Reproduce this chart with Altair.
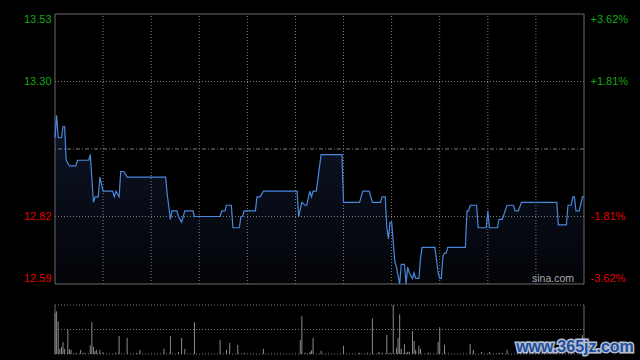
import altair as alt
import pandas as pd

# ---------------- data ----------------
PREV_CLOSE = 13.06
Y_MIN, Y_MAX = 12.58, 13.54

price_minute = [0, 1, 2, 4, 5, 6, 7, 9, 13, 14, 21, 22, 24, 25, 27, 28, 30, 36, 37, 38,
                40, 41, 43, 45, 69, 70, 72, 73, 76, 77, 79, 81, 86, 87, 103, 104, 106, 107, 110, 111,
                115, 116, 117, 118, 125, 126, 128, 130, 151, 152, 154, 156, 157, 159, 160, 161, 163, 166, 179, 180,
                190, 192, 196, 198, 203, 204, 206, 207, 208, 209, 210, 212, 213, 215, 216, 218, 219, 220, 221, 222,
                223, 224, 225, 227, 228, 229, 237, 239, 240, 241, 242, 243, 244, 245, 256, 257, 258, 259, 263, 264,
                269, 270, 271, 276, 277, 279, 282, 286, 287, 289, 291, 313, 314, 319, 320, 322, 323, 324, 325, 327,
                329, 330]
price_value = [13.10, 13.18, 13.10, 13.10, 13.14, 13.14, 13.02, 13.00, 13.00, 13.02, 13.02, 13.04, 12.87, 12.89, 12.89, 12.96, 12.91, 12.91, 12.89, 12.91,
               12.89, 12.98, 12.98, 12.96, 12.96, 12.90, 12.81, 12.84, 12.84, 12.82, 12.80, 12.84, 12.84, 12.82, 12.82, 12.84, 12.84, 12.86, 12.86, 12.78,
               12.78, 12.82, 12.82, 12.84, 12.84, 12.89, 12.89, 12.91, 12.91, 12.82, 12.87, 12.86, 12.86, 12.91, 12.89, 12.91, 12.91, 13.04, 13.04, 12.87,
               12.87, 12.91, 12.91, 12.87, 12.87, 12.89, 12.89, 12.78, 12.74, 12.80, 12.80, 12.66, 12.64, 12.58, 12.65, 12.65, 12.58, 12.64, 12.62, 12.61,
               12.60, 12.62, 12.60, 12.60, 12.67, 12.71, 12.71, 12.62, 12.60, 12.60, 12.68, 12.69, 12.69, 12.71, 12.71, 12.84, 12.84, 12.86, 12.86, 12.78,
               12.78, 12.84, 12.78, 12.78, 12.81, 12.81, 12.86, 12.86, 12.84, 12.84, 12.87, 12.87, 12.79, 12.79, 12.86, 12.86, 12.89, 12.89, 12.84, 12.84,
               12.89, 12.89]

volume_minute = [0, 1, 2, 3, 4, 5, 6, 8, 9, 10, 13, 16, 18, 22, 23, 24, 25, 26, 28, 30,
                 38, 40, 45, 51, 53, 68, 72, 77, 79, 81, 87, 103, 107, 109, 114, 118, 130, 153, 154, 156,
                 159, 160, 161, 166, 180, 190, 195, 198, 202, 204, 207, 209, 211, 213, 214, 215, 216, 218, 219, 220,
                 221, 223, 224, 225, 227, 228, 233, 239, 240, 243, 259, 261, 266, 271, 277, 279, 282, 329]
volume_value = [167, 173, 133, 21, 29, 49, 21, 100, 19, 17, 4, 17, 5, 35, 129, 29, 12, 17, 17, 7,
                5, 73, 65, 5, 17, 21, 73, 9, 65, 21, 129, 57, 17, 45, 37, 5, 21, 57, 153, 5,
                9, 15, 65, 13, 33, 5, 5, 145, 9, 5, 77, 5, 199, 25, 65, 161, 21, 41, 5, 9,
                9, 93, 53, 17, 33, 21, 5, 49, 109, 37, 41, 17, 9, 9, 5, 5, 17, 77]

tick_prices = [13.53, 13.30, 12.82, 12.59]
tick_pcts = ["+3.62%", "+1.81%", "-1.81%", "-3.62%"]
grid_minutes = [30, 60, 90, 120, 150, 180, 210, 240, 270, 300]
grid_prices = [13.30, 12.82]
edge_minutes = [0, 330]

VOL_MAX = max(volume_value)

# ---------------- layout ----------------
W, H = 529, 340
PRICE_H = 270
VOL_TOP = 291
FONT = "Arial, Liberation Sans"
GREEN = "#12a812"
RED = "#e00000"
BORDER = "#6a6a6a"
GRID = "#7c7c7c"

xs = alt.Scale(domain=[0, 330], nice=False, zero=False)
py = alt.Scale(domain=[Y_MIN, Y_MAX], range=[PRICE_H, 0], nice=False, zero=False)
vy = alt.Scale(domain=[0, VOL_MAX], range=[H, VOL_TOP], nice=False, zero=False)

pdf = pd.DataFrame({"m": price_minute, "p": price_value})
vdf = pd.DataFrame({"m": volume_minute, "v": volume_value})

label_color = {"condition": {"test": f"datum.value > {PREV_CLOSE}", "value": GREEN}, "value": RED}
label_offset = {"condition": [{"test": "datum.value > 13.5", "value": 3},
                              {"test": "datum.value < 12.6", "value": -3}], "value": 0}

pct_expr = "''"
for p, s in reversed(list(zip(tick_prices, tick_pcts))):
    pct_expr = f"abs(datum.value - {p}) < 0.001 ? '{s}' : ({pct_expr})"

X = alt.X("m:Q", scale=xs, axis=None)

area = alt.Chart(pdf).mark_area(
    color=alt.Gradient(gradient="linear",
                       stops=[alt.GradientStop(color="#0d1527", offset=0),
                              alt.GradientStop(color="#030408", offset=1)],
                       x1=0, x2=0, y1=0, y2=1)
).encode(x=X, y=alt.Y("p:Q", scale=py, axis=None), y2=alt.datum(Y_MIN))

# grid
vgrid = alt.Chart(pd.DataFrame({"m": grid_minutes})).mark_rule(
    color=GRID, strokeDash=[1, 2], strokeWidth=1
).encode(x=X, y=alt.YDatum(Y_MIN, scale=py, axis=None), y2=alt.datum(Y_MAX))
hgrid = alt.Chart(pd.DataFrame({"p": grid_prices})).mark_rule(
    color=GRID, strokeDash=[1, 2], strokeWidth=1
).encode(y=alt.Y("p:Q", scale=py, axis=None))
prev = alt.Chart(pd.DataFrame({"p": [PREV_CLOSE]})).mark_rule(
    color=GRID, strokeDash=[4, 2, 1, 2], strokeWidth=1
).encode(y=alt.Y("p:Q", scale=py, axis=None))

# price panel border
pb_h = alt.Chart(pd.DataFrame({"p": [Y_MIN, Y_MAX]})).mark_rule(color=BORDER).encode(
    y=alt.Y("p:Q", scale=py, axis=None))
pb_v = alt.Chart(pd.DataFrame({"m": edge_minutes})).mark_rule(color=BORDER).encode(
    x=X, y=alt.YDatum(Y_MIN, scale=py, axis=None), y2=alt.datum(Y_MAX))

line = alt.Chart(pdf).mark_line(color="#4a88dc", strokeWidth=1.2).encode(
    x=X,
    y=alt.Y("p:Q", scale=py,
            axis=alt.Axis(orient="left", values=tick_prices, format=".2f", title=None,
                          ticks=False, domain=False, grid=False, labelPadding=4,
                          labelFont=FONT, labelFontSize=11, labelColor=label_color,
                          labelOffset=label_offset)))

right_axis = alt.Chart(pdf).mark_line(opacity=0).encode(
    x=X,
    y=alt.Y("p:Q", scale=py,
            axis=alt.Axis(orient="right", values=tick_prices, labelExpr=pct_expr, title=None,
                          ticks=False, domain=False, grid=False, labelPadding=6,
                          labelFont=FONT, labelFontSize=11, labelColor=label_color,
                          labelOffset=label_offset)))

# volume panel
vbars = alt.Chart(vdf).mark_rule(color="#8a8a8a", strokeWidth=1).encode(
    x=X, y=alt.Y("v:Q", scale=vy, axis=None), y2=alt.datum(0))
vlines = alt.Chart(pd.DataFrame({"v": [0, VOL_MAX / 2, VOL_MAX]})).mark_rule(
    color=GRID, strokeDash=[1, 2], strokeWidth=1
).encode(y=alt.Y("v:Q", scale=vy, axis=None))
vb_v = alt.Chart(pd.DataFrame({"m": edge_minutes})).mark_rule(color=BORDER).encode(
    x=X, y=alt.YDatum(0, scale=vy, axis=None), y2=alt.datum(VOL_MAX))

sina = alt.Chart(pd.DataFrame({"t": ["sina.com"]})).mark_text(
    font=FONT, fontSize=10.5, color="#a8a8a8", align="center", baseline="middle"
).encode(text="t:N", x=alt.value(498), y=alt.value(265))

wm_df = pd.DataFrame({"t": ["www.365jz.com"]})
wm_halo = alt.Chart(wm_df).mark_text(
    font=FONT, fontSize=16, fontWeight="bold", color="#c9d3e6", stroke="#c9d3e6",
    strokeWidth=3, align="center", baseline="alphabetic", opacity=0.9
).encode(text="t:N", x=alt.value(520), y=alt.value(338))
wm_text = alt.Chart(wm_df).mark_text(
    font=FONT, fontSize=16, fontWeight="bold", color="#1d4f9c",
    align="center", baseline="alphabetic"
).encode(text="t:N", x=alt.value(520), y=alt.value(338))

chart = alt.layer(
    area, vgrid, hgrid, prev, pb_h, pb_v, line, right_axis,
    vlines, vbars, vb_v, sina, wm_halo, wm_text
).resolve_scale(y="independent").properties(
    width=W, height=H,
    background="black",
    padding={"left": 55, "top": 14, "right": 56, "bottom": 6},
    autosize=alt.AutoSizeParams(type="none"),
).configure_view(stroke=None)

chart.save("out.html", embed_options={"renderer": "svg", "actions": False})
